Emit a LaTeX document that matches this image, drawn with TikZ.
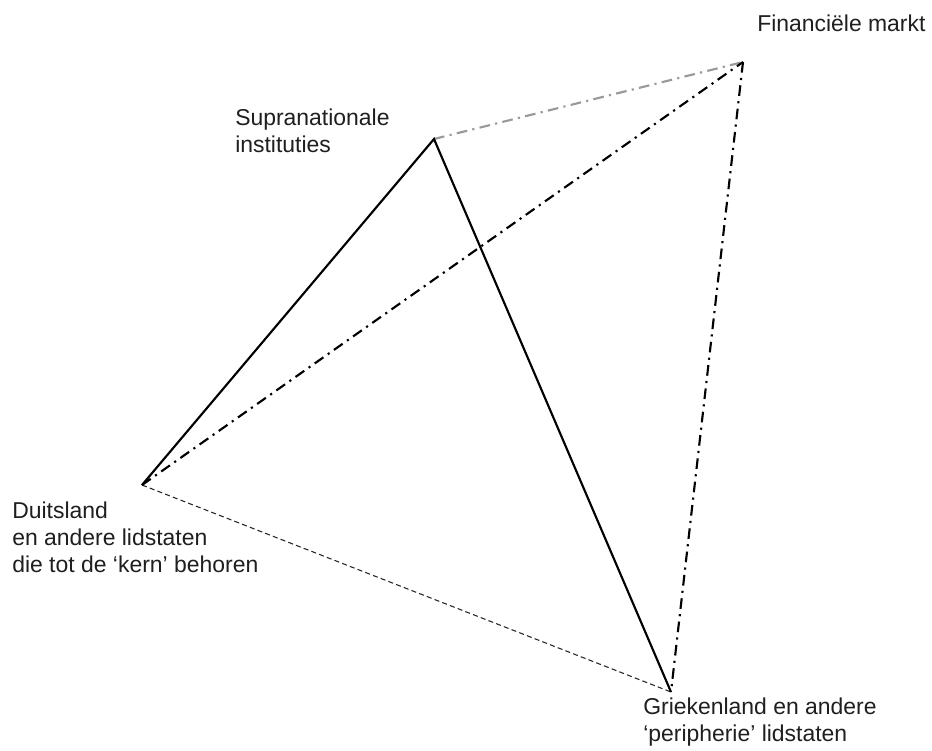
\documentclass[tikz,border=0pt]{standalone}
\usepackage{fontspec}
\setmainfont{Liberation Sans}
\begin{document}
\begin{tikzpicture}[x=0.75pt,y=-0.75pt,
  lbl/.style={anchor=base west,inner sep=0pt,align=left,text=black!88,
    font=\fontsize{17.2pt}{20.1pt}\selectfont},
  solidedge/.style={line width=1.6pt,black},
  dashdot/.style={line width=1.6pt,dash pattern=on 8pt off 4pt on 1.6pt off 4pt},
  grayedge/.style={dashdot,black!40},
  blackedge/.style={dashdot,black},
  thindash/.style={line width=0.8pt,black!85,dash pattern=on 3.8pt off 2.4pt}]
\path[use as bounding box,fill=white] (0,0) rectangle (932,750);

% corners of the figure
\coordinate (fin) at (743,62);
\coordinate (sup) at (434,139);
\coordinate (dui) at (142,485);
\coordinate (gri) at (671,692);

% connections
\draw[thindash] (dui) -- (gri);
\draw[grayedge] (sup) -- (fin);
\draw[blackedge] (dui) -- (fin);
\draw[blackedge] (fin) -- (gri);
\draw[solidedge,line join=miter] (dui) -- (sup) -- (gri);

% labels (anchored at the baseline of their last line)
\node[lbl] (finlbl) at (757,31) {Financiële markt};
\node[lbl] (suplbl) at (235,152) {Supranationale\\instituties};
\node[lbl] (duilbl) at (12,572) {Duitsland\\en andere lidstaten\\die tot de ‘kern’ behoren};
\node[lbl] (grilbl) at (643,741) {Griekenland en andere\\‘peripherie’ lidstaten};
\end{tikzpicture}
\end{document}
